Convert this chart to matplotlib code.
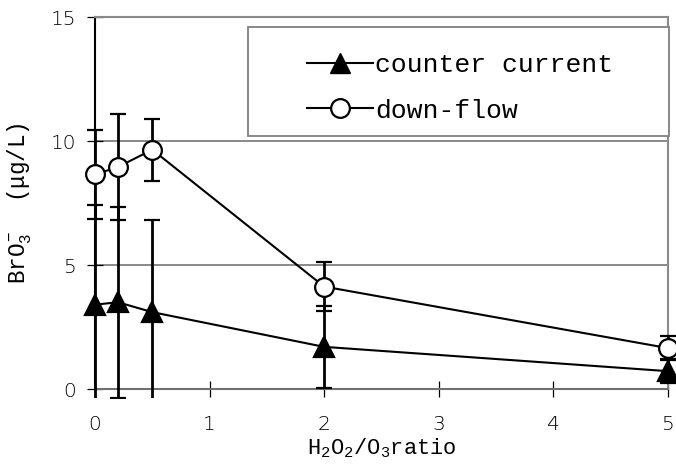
import matplotlib
matplotlib.use("Agg")
import matplotlib.pyplot as plt
from matplotlib.lines import Line2D
from matplotlib.patches import Rectangle

ratio = [0, 0.2, 0.5, 2, 5]
counter = [3.4, 3.5, 3.1, 1.7, 0.72]
counter_err = [4.0, 3.85, 3.7, 1.65, 0.48]
down = [8.65, 8.95, 9.65, 4.13, 1.65]
down_err = [1.8, 2.13, 1.25, 1.0, 0.5]
xticks = [0, 1, 2, 3, 4, 5]
yticks = [0, 5, 10, 15]
series_names = ['counter current', 'down-flow']

plt.rcParams['font.family'] = ['Liberation Mono', 'DejaVu Sans']
plt.rcParams['mathtext.fontset'] = 'custom'
plt.rcParams['mathtext.rm'] = 'Liberation Mono'
plt.rcParams['mathtext.it'] = 'Liberation Mono'

fig = plt.figure(figsize=(6.76, 4.66), dpi=100)
ax = fig.add_axes([0.1405, 0.1652, 0.8475, 0.7983])

clip_rect = Rectangle((-0.05, -0.024), 1.1, 1.1, transform=ax.transAxes,
                      fill=False, visible=False)
ax.add_patch(clip_rect)

def draw(y, err, marker, ms, mfc, z):
    cont = ax.errorbar(ratio, y, yerr=err, color='black', lw=1.5,
                       marker=marker, ms=ms, mfc=mfc, mec='black', mew=1.6,
                       capsize=5.5, elinewidth=2.0, capthick=2.0, zorder=z)
    line, caps, bars = cont.lines
    line.set_clip_on(False)
    for c in caps:
        c.set_clip_path(clip_rect)
    for b in bars:
        b.set_clip_path(clip_rect)

draw(counter, counter_err, '^', 14, 'black', 3)
draw(down, down_err, 'o', 13.5, 'white', 4)

ax.set_xlim(0, 5)
ax.set_ylim(0, 15)
ax.set_xticks(xticks)
ax.set_yticks(yticks)
ax.yaxis.grid(True, color='#808080', lw=1.3)
ax.set_axisbelow(True)
for name, s in ax.spines.items():
    s.set_color('#8a8a8a')
    s.set_linewidth(1.5)
ax.spines['left'].set_color('black')
ax.spines['bottom'].set_color('#707070')
ax.tick_params(axis='x', direction='inout', length=11, width=0.9, labelsize=14.5, pad=13)
ax.tick_params(axis='y', direction='inout', length=11, width=0.9, labelsize=14.5, pad=8)
for lab in ax.get_xticklabels() + ax.get_yticklabels():
    lab.set_family('DejaVu Sans')
    lab.set_fontweight('light')

ax.set_xlabel(r'H$_2$O$_2$/O$_3$ratio', fontsize=15.8)
ax.xaxis.set_label_coords(0.5, -0.128)
ax.set_ylabel(r'BrO$_3^-$  ($\mu$g/L)', fontsize=16.3)
ax.yaxis.set_label_coords(-0.106, 0.5)

frame = Rectangle((0.267, 0.680), 0.735, 0.293, transform=ax.transAxes,
                  facecolor='white', edgecolor='#808080', lw=1.3, zorder=5,
                  clip_on=False)
ax.add_patch(frame)
handles = [
    Line2D([], [], color='black', lw=1.5, marker='^', ms=14, mfc='black', mec='black'),
    Line2D([], [], color='black', lw=1.5, marker='o', ms=13.5, mfc='white', mec='black', mew=1.6),
]
leg = ax.legend(handles, series_names, loc='center', bbox_to_anchor=(0.637, 0.81),
                fontsize=19, frameon=False, handlelength=2.5, labelspacing=0.82,
                handletextpad=0.1, borderpad=0)
leg.set_zorder(6)

fig.savefig('out.png', dpi=100)
